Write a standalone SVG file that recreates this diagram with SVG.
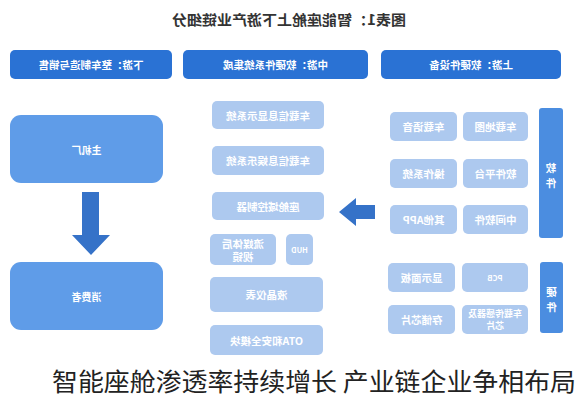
<svg xmlns="http://www.w3.org/2000/svg" width="577" height="400" viewBox="0 0 577 400">
<style>
text{font-family:"Noto Sans CJK SC","Noto Sans",sans-serif;text-anchor:middle;dominant-baseline:central}
.hdr{fill:#2a72d4}
.hdr-t{fill:#fff;font-size:10.5px;font-weight:bold}
.big{fill:#5f9ce8}
.big-t{fill:#fff;font-size:10px;font-weight:bold}
.lt{fill:#adc9ef}
.lt-t{fill:#fff;font-size:10.5px;font-weight:bold}
.lbl{fill:#4b8de0}
.lbl-t{fill:#fff;font-size:10.5px;font-weight:bold}
.arr{fill:#3572c8}
</style>
<rect width="577" height="400" fill="#ffffff"/>
<g id="title"><text x="289" y="19" transform="matrix(-1 0 0 1 578 0)" style="font-size:14px;font-weight:bold;fill:#333" textLength="234" lengthAdjust="spacingAndGlyphs">图表1：智能座舱上下游产业链细分</text></g>
<g id="hdr-down"><rect class="hdr" x="10" y="50" width="162" height="29" rx="5"/><text class="hdr-t" x="91" y="64.5" transform="matrix(-1 0 0 1 182 0)">下游：整车制造与销售</text></g>
<g id="hdr-mid"><rect class="hdr" x="183" y="50" width="185" height="29" rx="5"/><text class="hdr-t" x="275.5" y="64.5" transform="matrix(-1 0 0 1 551 0)">中游：软硬件系统集成</text></g>
<g id="hdr-up"><rect class="hdr" x="381" y="50" width="180" height="29" rx="5"/><text class="hdr-t" x="471" y="64.5" transform="matrix(-1 0 0 1 942 0)">上游：软硬件设备</text></g>
<g id="oem"><rect class="big" x="10" y="115" width="153" height="68" rx="11"/><text class="big-t" x="86.5" y="149" transform="matrix(-1 0 0 1 173 0)">主机厂</text></g>
<g id="consumer"><rect class="big" x="10" y="262" width="153" height="68" rx="11"/><text class="big-t" x="86.5" y="296" transform="matrix(-1 0 0 1 173 0)">消费者</text></g>
<g id="m1"><rect class="lt" x="212" y="101" width="112" height="28" rx="5"/><text class="lt-t" x="268" y="115" transform="matrix(-1 0 0 1 536 0)">车载信息显示系统</text></g>
<g id="m2"><rect class="lt" x="212" y="146" width="112" height="29" rx="5"/><text class="lt-t" x="268" y="160.5" transform="matrix(-1 0 0 1 536 0)">车载信息娱乐系统</text></g>
<g id="m3"><rect class="lt" x="212" y="192" width="112" height="28" rx="5"/><text class="lt-t" x="268" y="206" transform="matrix(-1 0 0 1 536 0)">座舱域控制器</text></g>
<g id="m4"><rect class="lt" x="210" y="234" width="66" height="31" rx="5"/><text class="lt-t" x="243" y="243" transform="matrix(-1 0 0 1 486 0)">流媒体后</text><text class="lt-t" x="243" y="256" transform="matrix(-1 0 0 1 486 0)">视镜</text></g>
<g id="m5"><rect class="lt" x="286" y="234" width="27" height="31" rx="5"/><text class="lt-t" x="299.5" y="249.5" transform="matrix(-1 0 0 1 599 0)" style="font-size:7.5px">HUD</text></g>
<g id="m6"><rect class="lt" x="210" y="277" width="113" height="35" rx="5"/><text class="lt-t" x="266.5" y="294.5" transform="matrix(-1 0 0 1 533 0)">液晶仪表</text></g>
<g id="m7"><rect class="lt" x="210" y="325" width="113" height="30" rx="5"/><text class="lt-t" x="266.5" y="340" transform="matrix(-1 0 0 1 533 0)">OTA和安全模块</text></g>
<g id="soft-label"><rect class="lbl" x="539" y="108" width="24" height="130" rx="3"/><text class="lbl-t" x="551" y="167" transform="matrix(-1 0 0 1 1102 0)">软</text><text class="lbl-t" x="551" y="182" transform="matrix(-1 0 0 1 1102 0)">件</text></g>
<g id="s1"><rect class="lt" x="463" y="112" width="65" height="29" rx="5"/><text class="lt-t" x="495.5" y="126.5" transform="matrix(-1 0 0 1 991 0)">车载地图</text></g>
<g id="s2"><rect class="lt" x="390" y="112" width="67" height="29" rx="5"/><text class="lt-t" x="423.5" y="126.5" transform="matrix(-1 0 0 1 847 0)">车载语音</text></g>
<g id="s3"><rect class="lt" x="463" y="159" width="65" height="29" rx="5"/><text class="lt-t" x="495.5" y="173.5" transform="matrix(-1 0 0 1 991 0)">软件平台</text></g>
<g id="s4"><rect class="lt" x="390" y="159" width="67" height="29" rx="5"/><text class="lt-t" x="423.5" y="173.5" transform="matrix(-1 0 0 1 847 0)">操作系统</text></g>
<g id="s5"><rect class="lt" x="463" y="205" width="65" height="29" rx="5"/><text class="lt-t" x="495.5" y="219.5" transform="matrix(-1 0 0 1 991 0)">中间软件</text></g>
<g id="s6"><rect class="lt" x="390" y="205" width="67" height="29" rx="5"/><text class="lt-t" x="423.5" y="219.5" transform="matrix(-1 0 0 1 847 0)">其他APP</text></g>
<g id="hard-label"><rect class="lbl" x="540" y="262" width="23" height="71" rx="3"/><text class="lbl-t" x="551.5" y="291" transform="matrix(-1 0 0 1 1103 0)">硬</text><text class="lbl-t" x="551.5" y="306" transform="matrix(-1 0 0 1 1103 0)">件</text></g>
<g id="h1"><rect class="lt" x="462" y="263" width="66" height="29" rx="5"/><text class="lt-t" x="495" y="277.5" transform="matrix(-1 0 0 1 990 0)" style="font-size:7.5px">PCB</text></g>
<g id="h2"><rect class="lt" x="388" y="263" width="67" height="29" rx="5"/><text class="lt-t" x="421.5" y="277.5" transform="matrix(-1 0 0 1 843 0)">显示面板</text></g>
<g id="h3"><rect class="lt" x="462" y="305" width="66" height="29" rx="5"/><text class="lt-t" x="495" y="313.5" transform="matrix(-1 0 0 1 990 0)" style="font-size:9px">车载传感器及</text><text class="lt-t" x="495" y="325.5" transform="matrix(-1 0 0 1 990 0)" style="font-size:9px">芯片</text></g>
<g id="h4"><rect class="lt" x="388" y="305" width="67" height="29" rx="5"/><text class="lt-t" x="421.5" y="319.5" transform="matrix(-1 0 0 1 843 0)">存储芯片</text></g>
<g id="connectors">
<polygon class="arr" points="82,192 99,192 99,235 110,235 91,255 72,235 82,235"/>
<polygon class="arr" points="375,205 356,205 356,198 339,212 356,226 356,219 375,219"/>
</g>
<g id="caption"><text x="52" y="380" style="text-anchor:start;font-size:24.5px;fill:#222" textLength="524" lengthAdjust="spacingAndGlyphs">智能座舱渗透率持续增长 产业链企业争相布局</text></g>
</svg>
